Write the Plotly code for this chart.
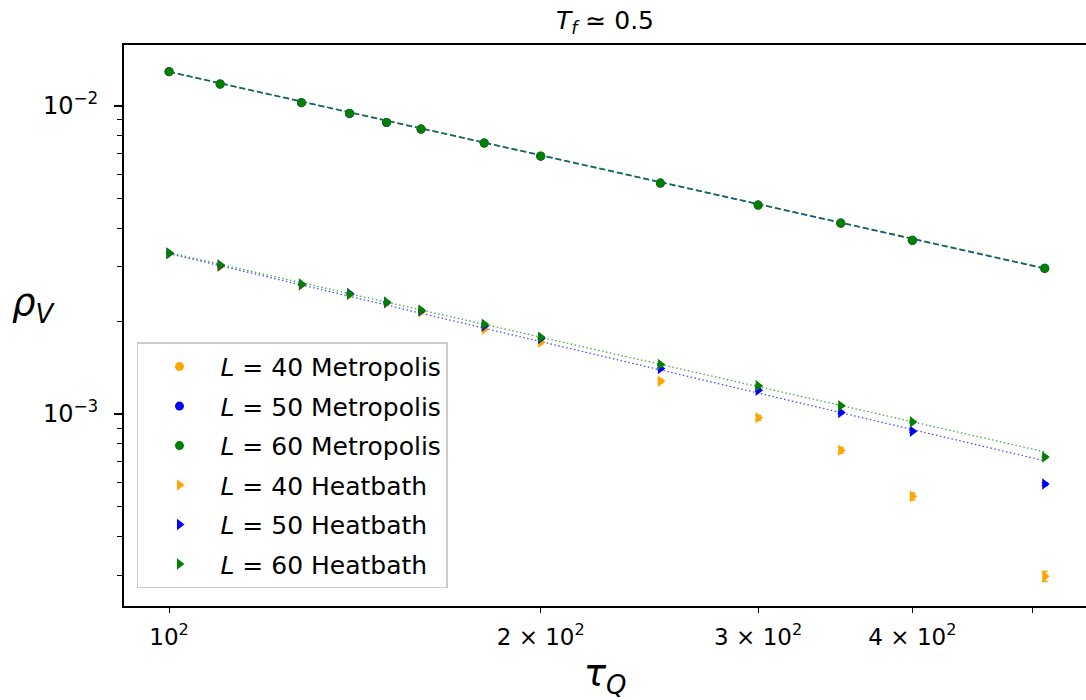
import plotly.graph_objects as go

# Quench times tau_Q
tau = [100, 110, 128, 140, 150, 160, 180, 200, 250, 300, 350, 400, 512]

# Vortex density rho_V, Metropolis dynamics
met_40 = [0.01289, 0.01175, 0.01022, 0.00944, 0.00882, 0.00839, 0.00756, 0.00685, 0.00560, 0.00475, 0.00415, 0.00365, 0.00296]
met_50 = [0.01290, 0.01176, 0.01023, 0.00944, 0.00882, 0.00840, 0.00757, 0.00686, 0.00561, 0.00476, 0.00416, 0.00366, 0.00297]
met_60 = [0.01290, 0.01176, 0.01023, 0.00945, 0.00883, 0.00840, 0.00757, 0.00687, 0.00561, 0.00476, 0.00416, 0.00366, 0.00297]
met_err_40 = [0.00006, 0.00005, 0.00005, 0.00004, 0.00004, 0.00004, 0.00003, 0.00003, 0.00003, 0.00002, 0.00002, 0.00002, 0.00002]
met_err_50 = [0.00005, 0.00004, 0.00004, 0.00004, 0.00003, 0.00003, 0.00003, 0.00003, 0.00002, 0.00002, 0.00002, 0.00002, 0.00001]
met_err_60 = [0.00004, 0.00004, 0.00003, 0.00003, 0.00003, 0.00003, 0.00002, 0.00002, 0.00002, 0.00002, 0.00001, 0.00001, 0.00001]

# Vortex density rho_V, heat-bath dynamics
hb_40 = [0.003310, 0.003010, 0.002620, 0.002440, 0.002290, 0.002144, 0.001884, 0.001709, 0.001277, 0.000971, 0.000762, 0.000540, 0.000297]
hb_50 = [0.003320, 0.003030, 0.002630, 0.002460, 0.002300, 0.002160, 0.001930, 0.001757, 0.001404, 0.001194, 0.001010, 0.000879, 0.000592]
hb_60 = [0.003325, 0.003040, 0.002637, 0.002447, 0.002305, 0.002171, 0.001955, 0.001774, 0.001446, 0.001233, 0.001062, 0.000942, 0.000725]
hb_err_40 = [0.000030, 0.000028, 0.000025, 0.000024, 0.000023, 0.000022, 0.000020, 0.000019, 0.000018, 0.000017, 0.000016, 0.000014, 0.000011]
hb_err_50 = [0.000020, 0.000018, 0.000016, 0.000015, 0.000014, 0.000013, 0.000012, 0.000011, 0.000010, 0.000009, 0.000008, 0.000007, 0.000006]
hb_err_60 = [0.000018, 0.000016, 0.000014, 0.000013, 0.000012, 0.000012, 0.000011, 0.000010, 0.000009, 0.000008, 0.000007, 0.000006, 0.000005]

# Power-law fits, evaluated at the ends of the tau range
fit_tau = [100, 512]
fit_met_50 = [0.01288, 0.00296]
fit_met_60 = [0.01290, 0.00297]
fit_hb_50 = [0.003312, 0.000704]
fit_hb_60 = [0.003338, 0.000753]

# Axis ticks
x_ticks = [100, 200, 300, 400, 500]
x_tick_text = ["10<sup>2</sup>", "2 × 10<sup>2</sup>", "3 × 10<sup>2</sup>", "4 × 10<sup>2</sup>", " "]
y_ticks = [1e-3, 1e-2]
y_tick_text = ["10<sup>−3</sup>", "10<sup>−2</sup>"]
y_minor = [3e-4, 4e-4, 5e-4, 6e-4, 7e-4, 8e-4, 9e-4,
           2e-3, 3e-3, 4e-3, 5e-3, 6e-3, 7e-3, 8e-3, 9e-3]

ORANGE = "#ffa500"
BLUE = "#0000ff"
GREEN = "#008000"
FONT = "DejaVu Sans"

fig = go.Figure()

# fit lines
fig.add_trace(go.Scatter(x=fit_tau, y=fit_met_50, mode="lines", showlegend=False,
                         line=dict(color=BLUE, width=1.5, dash="6px,3px"), opacity=0.8))
fig.add_trace(go.Scatter(x=fit_tau, y=fit_met_60, mode="lines", showlegend=False,
                         line=dict(color=GREEN, width=1.5, dash="6px,3px"), opacity=0.8))
fig.add_trace(go.Scatter(x=fit_tau, y=fit_hb_50, mode="lines", showlegend=False,
                         line=dict(color=BLUE, width=1.3, dash="1.5px,2.5px"), opacity=0.7))
fig.add_trace(go.Scatter(x=fit_tau, y=fit_hb_60, mode="lines", showlegend=False,
                         line=dict(color=GREEN, width=1.3, dash="1.5px,2.5px"), opacity=0.7))

series = [
    ("<i>L</i> = 40 Metropolis", met_40, met_err_40, ORANGE, "circle", 9),
    ("<i>L</i> = 50 Metropolis", met_50, met_err_50, BLUE, "circle", 9),
    ("<i>L</i> = 60 Metropolis", met_60, met_err_60, GREEN, "circle", 9),
    ("<i>L</i> = 40 Heatbath", hb_40, hb_err_40, ORANGE, "triangle-right", 10),
    ("<i>L</i> = 50 Heatbath", hb_50, hb_err_50, BLUE, "triangle-right", 10),
    ("<i>L</i> = 60 Heatbath", hb_60, hb_err_60, GREEN, "triangle-right", 10),
]
for i, (name, vals, errs, color, symbol, size) in enumerate(series):
    fig.add_trace(go.Scatter(
        x=tau, y=vals, mode="markers", name=name, legendgroup=f"g{i}",
        marker=dict(color=color, symbol=symbol, size=size, line=dict(width=0)),
        error_y=dict(type="data", array=errs, visible=True, color=color,
                     thickness=1.5, width=3),
    ))

fig.update_layout(
    width=1086, height=700,
    margin=dict(l=124, r=0, t=45, b=94),
    paper_bgcolor="white", plot_bgcolor="white",
    font=dict(family=FONT, size=22, color="black"),
    title=dict(text="<i>T<sub>f</sub></i> ≃ 0.5", x=0.5, xref="paper", xanchor="center",
               y=1 - 20 / 700, yref="container", yanchor="middle",
               font=dict(family=FONT, size=25, color="black")),
    showlegend=True,
    legend=dict(x=0.0135, y=0.470, xanchor="left", yanchor="top",
                bgcolor="rgba(255,255,255,0.8)", bordercolor="#cccccc", borderwidth=1.5,
                font=dict(family=FONT, size=25, color="black"),
                itemwidth=72, traceorder="grouped", tracegroupgap=4,
                itemclick=False, itemdoubleclick=False),
    xaxis=dict(type="log", range=[1.9635, 2.7427],
               tickmode="array", tickvals=x_ticks, ticktext=x_tick_text,
               tickfont=dict(family=FONT, size=23),
               ticks="outside", ticklen=5, tickwidth=1.4, tickcolor="black",
               showline=True, linecolor="black", linewidth=1.8, mirror=True,
               showgrid=False, zeroline=False, ticklabelstandoff=4,
               title=dict(text="<i>τ<sub>Q</sub></i>", font=dict(family=FONT, size=37), standoff=12)),
    xaxis2=dict(type="log", range=[1.9635, 2.7427], overlaying="x", anchor="y", side="bottom",
                tickmode="array", tickvals=[100], showticklabels=False,
                ticks="outside", ticklen=8, tickwidth=1.6, tickcolor="black",
                showline=False, showgrid=False, zeroline=False),
    yaxis=dict(type="log", range=[-3.6234, -1.8029],
               tickmode="array", tickvals=y_ticks, ticktext=y_tick_text,
               tickfont=dict(family=FONT, size=24),
               ticks="outside", ticklen=8, tickwidth=1.6, tickcolor="black",
               minor=dict(tickmode="array", tickvals=y_minor, ticks="outside",
                          ticklen=5, tickwidth=1.2, tickcolor="black", showgrid=False),
               showline=True, linecolor="black", linewidth=1.8, mirror=False,
               showgrid=False, zeroline=False, ticklabelstandoff=11),
)

# horizontal y-axis label
fig.add_annotation(text="<i>ρ<sub>V</sub></i>", xref="paper", yref="paper",
                   x=-0.094, y=0.536, xanchor="center", yanchor="middle",
                   showarrow=False, font=dict(family=FONT, size=37, color="black"))

fig.write_html("out.html")
